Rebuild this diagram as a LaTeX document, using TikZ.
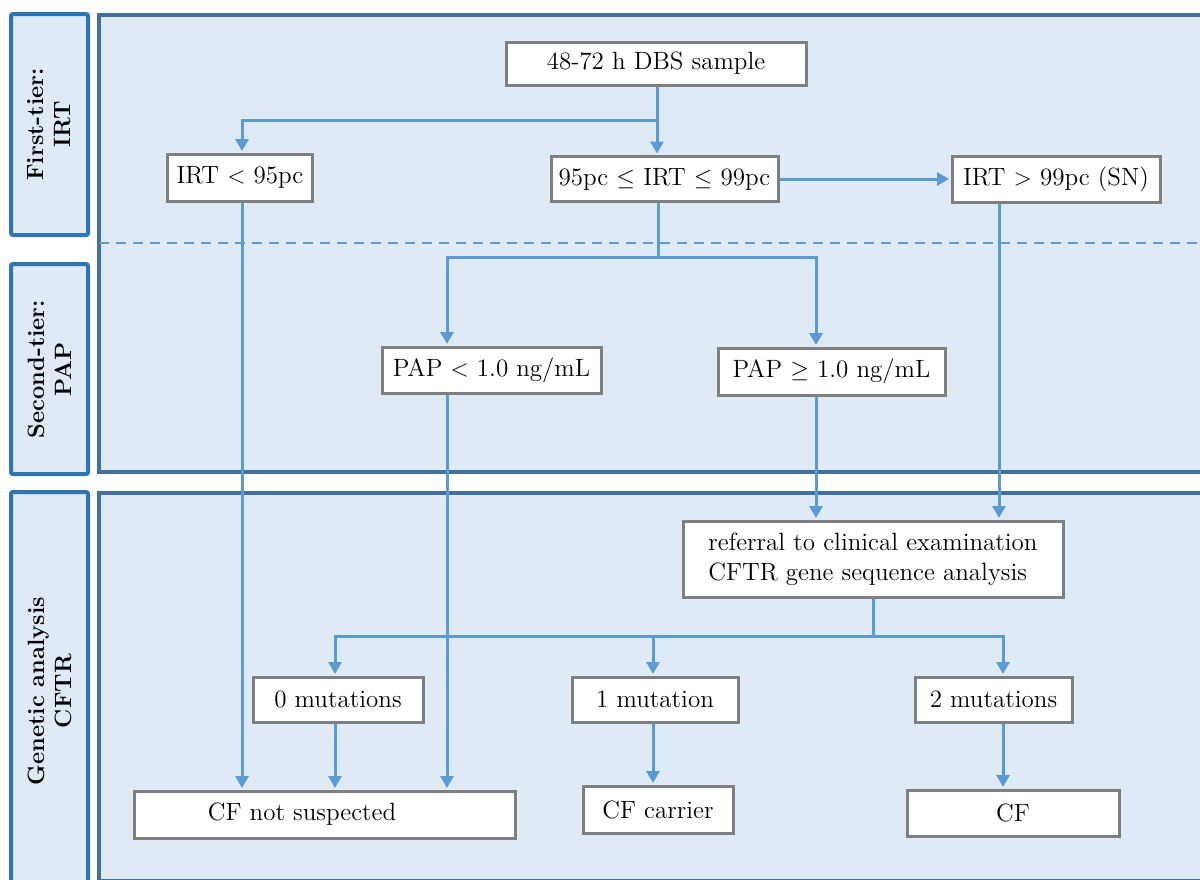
\documentclass[tikz,border=0pt]{standalone}
\usetikzlibrary{arrows.meta}
\definecolor{bgblue}{RGB}{222,234,246}
\definecolor{panelblue}{RGB}{65,113,156}
\definecolor{labblue}{RGB}{46,117,182}
\definecolor{connblue}{RGB}{91,155,213}
\definecolor{boxgray}{RGB}{127,127,127}
\begin{document}
\begin{tikzpicture}[x=0.5pt,y=-0.5pt,
  panel/.style={draw=panelblue, line width=2pt, fill=bgblue},
  lab/.style={draw=labblue, line width=2pt, fill=bgblue, rounded corners=1pt, rotate=90,
    font=\bfseries\fontsize{11.8}{13.5}\selectfont, align=center, minimum height=38.5pt},
  box/.style={draw=boxgray, line width=1.5pt, fill=white, inner sep=0pt,
    font=\fontsize{12.5}{15}\selectfont},
  conn/.style={draw=connblue, line width=1.5pt},
  arr/.style={conn, -{Triangle[length=6pt,width=6.5pt]}, shorten >=0.75pt},
  sep/.style={draw=connblue, line width=1pt, dash pattern=on 5pt off 3.5pt}]
\useasboundingbox (0,0) rectangle (1200,879);
\clip (0,0) rectangle (1200,879);
\fill[white] (0,0) rectangle (1200,879);
% panels
\draw[panel] (99,15) rectangle (1230,472);
\draw[panel] (99,493) rectangle (1230,881);
\draw[sep] (99,243) -- (1200,243);
% lane labels
\node[lab, minimum width=110.5pt] (lab1) at (49.5,124.5) {First-tier:\\IRT};
\node[lab, minimum width=105pt] (lab2) at (49.5,369) {Second-tier:\\PAP};
\node[lab, minimum width=199pt] (lab3) at (49.5,691) {Genetic analysis\\CFTR};
% boxes
\node[box, minimum width=150pt, minimum height=21.5pt] (dbs) at (656,63.5) {48-72 h DBS sample};
\node[box, minimum width=72.5pt, minimum height=23.5pt] (irtlow) at (240,177.5) {IRT $<$ 95pc};
\node[box, minimum width=113.5pt, minimum height=22.5pt] (irtmid) at (664.5,179) {95pc $\leq$ IRT $\leq$ 99pc};
\node[box, minimum width=104pt, minimum height=23pt] (irthigh) at (1056,179) {IRT $>$ 99pc (SN)};
\node[box, minimum width=109.5pt, minimum height=23pt] (papl) at (491.5,370) {PAP $<$ 1.0 ng/mL};
\node[box, minimum width=113.5pt, minimum height=23.5pt] (paph) at (831.5,371.5) {PAP $\geq$ 1.0 ng/mL};
\node[box, minimum width=190pt, minimum height=38pt, align=left] (ref) at (873,559) {referral to clinical examination\\CFTR gene sequence analysis};
\node[box, minimum width=85pt, minimum height=22.5pt] (m0) at (338,699.5) {0 mutations};
\node[box, minimum width=83pt, minimum height=22.5pt] (m1) at (655,699.5) {1 mutation};
\node[box, minimum width=78.5pt, minimum height=22.5pt] (m2) at (993.5,699.5) {2 mutations};
\node[box, minimum width=190.5pt, minimum height=23.5pt] (cfns) at (324.5,814.5) {CF not suspected\rule{22.5pt}{0pt}};
\node[box, minimum width=75pt, minimum height=23.5pt] (cfc) at (658,809.5) {CF carrier};
\node[box, minimum width=106pt, minimum height=23pt] (cf) at (1013,813) {CF};
% junctions and columns
\coordinate (j1) at (657,120);
\coordinate (j2) at (658,257);
\coordinate (j3) at (873,636);
\coordinate (x242) at (242,0);
\coordinate (x447) at (447,0);
\coordinate (x816) at (816,0);
\coordinate (x999) at (999,0);
\coordinate (x335) at (335,0);
\coordinate (x653) at (653,0);
\coordinate (x1003) at (1003,0);
% connectors
\draw[arr] (dbs.south -| j1) -- (irtmid.north -| j1);
\draw[arr] (j1) -| (irtlow.north -| x242);
\draw[arr] (irtmid.east) -- (irthigh.west);
\draw[conn] (irtmid.south -| j2) -- (j2);
\draw[arr] (j2) -| (papl.north -| x447);
\draw[arr] (j2) -| (paph.north -| x816);
\draw[arr] (irtlow.south -| x242) -- (cfns.north -| x242);
\draw[arr] (papl.south -| x447) -- (cfns.north -| x447);
\draw[arr] (paph.south -| x816) -- (ref.north -| x816);
\draw[arr] (irthigh.south -| x999) -- (ref.north -| x999);
\draw[conn] (ref.south -| j3) -- (j3);
\draw[arr] (j3) -| (m0.north -| x335);
\draw[arr] (j3) -| (m1.north -| x653);
\draw[arr] (j3) -| (m2.north -| x1003);
\draw[arr] (m0.south -| x335) -- (cfns.north -| x335);
\draw[arr] (m1.south -| x653) -- (cfc.north -| x653);
\draw[arr] (m2.south -| x1003) -- (cf.north -| x1003);
\end{tikzpicture}
\end{document}
